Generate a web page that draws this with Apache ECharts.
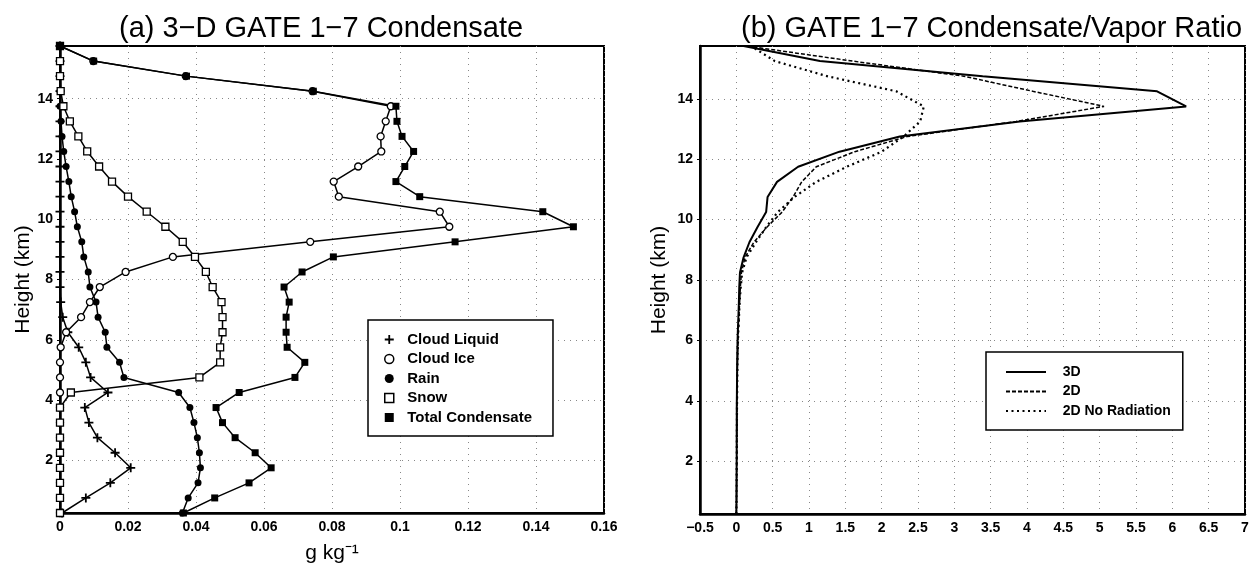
<!DOCTYPE html>
<html>
<head>
<meta charset="utf-8">
<script src="https://cdn.jsdelivr.net/npm/echarts@6/dist/echarts.min.js"></script>
<style>
html,body{margin:0;padding:0;background:#fff;}
#chart{width:1252px;height:569px;}
</style>
</head>
<body>
<div id="chart"></div>
<script>
// Heights (km) of the model levels, bottom to top
const heights = [0.25, 0.75, 1.25, 1.75, 2.25, 2.75, 3.25, 3.75, 4.25, 4.75, 5.25, 5.75, 6.25, 6.75, 7.25, 7.75,
                 8.25, 8.75, 9.25, 9.75, 10.25, 10.75, 11.25, 11.75, 12.25, 12.75, 13.25, 13.75, 14.25, 14.75, 15.25, 15.75];

// (a) condensate, g/kg
const cloudLiquid = [0.0006, 0.0076, 0.0148, 0.0208, 0.0162, 0.011, 0.0085, 0.0073, 0.0141, 0.009, 0.0076, 0.0055, 0.0023, 0.0008, 0.0002, 0,
                     0, 0, 0, 0, 0, 0, 0, 0, 0, 0, 0, 0, 0, 0, 0, 0];
const cloudIce = [0, 0, 0, 0, 0, 0, 0, 0, 0, 0, 0, 0.0002, 0.0018, 0.0062, 0.0088, 0.0117,
                  0.0193, 0.0332, 0.0736, 0.1145, 0.1117, 0.082, 0.0805, 0.0877, 0.0945, 0.0943, 0.0958, 0.0973, 0.0743, 0.037, 0.0098, 0];
const rain = [0.036, 0.0377, 0.0406, 0.0413, 0.041, 0.0404, 0.0394, 0.0382, 0.0349, 0.0188, 0.0175, 0.0138, 0.0133, 0.0112, 0.0106, 0.0088,
              0.0083, 0.007, 0.0064, 0.0051, 0.0043, 0.0033, 0.0026, 0.0018, 0.0011, 0.0006, 0.0003, 0, 0, 0, 0, 0];
const snow = [0, 0, 0, 0, 0, 0, 0, 0, 0.0032, 0.041, 0.0471, 0.0471, 0.0478, 0.0478, 0.0475, 0.0449,
              0.0429, 0.0397, 0.0361, 0.031, 0.0255, 0.02, 0.0153, 0.0115, 0.008, 0.0054, 0.0029, 0.001, 0.0002, 0, 0, 0];
const totalCondensate = [0.0363, 0.0455, 0.0556, 0.0621, 0.0574, 0.0515, 0.0478, 0.0459, 0.0527, 0.0691, 0.072, 0.0668, 0.0665, 0.0665, 0.0674, 0.0659,
                         0.0712, 0.0804, 0.1162, 0.151, 0.142, 0.1058, 0.0988, 0.1014, 0.104, 0.1006, 0.0991, 0.0988, 0.0745, 0.0372, 0.0099, 0];

// (b) condensate / vapor ratio
const ratio3D = [0, 0.002, 0.003, 0.004, 0.005, 0.005, 0.006, 0.006, 0.008, 0.01, 0.012, 0.015, 0.02, 0.028, 0.035, 0.04,
                 0.05, 0.1, 0.18, 0.29, 0.41, 0.43, 0.56, 0.85, 1.42, 2.25, 3.9, 6.19, 5.79, 3.39, 1.15, 0.1];
const ratio2D = [0, 0.003, 0.004, 0.005, 0.006, 0.007, 0.008, 0.009, 0.01, 0.012, 0.015, 0.02, 0.025, 0.035, 0.045, 0.055,
                 0.07, 0.12, 0.24, 0.42, 0.63, 0.78, 0.9, 1.1, 1.63, 2.35, 3.85, 5.06, 4.08, 3.13, 1.6, 0.14];
const ratio2DNoRad = [0, 0.003, 0.004, 0.005, 0.006, 0.007, 0.008, 0.009, 0.011, 0.013, 0.016, 0.02, 0.026, 0.036, 0.045, 0.06,
                      0.08, 0.14, 0.27, 0.41, 0.57, 0.8, 1.1, 1.52, 2.0, 2.3, 2.53, 2.58, 2.2, 1.25, 0.53, 0.2];

// Tick labels
const yTicks = [2, 4, 6, 8, 10, 12, 14];
const xTicksA = [0, 0.02, 0.04, 0.06, 0.08, 0.1, 0.12, 0.14, 0.16];
const xTicksB = [-0.5, 0, 0.5, 1, 1.5, 2, 2.5, 3, 3.5, 4, 4.5, 5, 5.5, 6, 6.5, 7];

const namesA = ['Cloud Liquid', 'Cloud Ice', 'Rain', 'Snow', 'Total Condensate'];
const namesB = ['3D', '2D', '2D No Radiation'];

function pairs(xs) { return xs.map((v, i) => [v, heights[i]]); }

const FONT = 'Liberation Sans';
const plusPath = 'path://M4,0H6V4H10V6H6V10H4V6H0V4H4Z';
const squarePath = 'path://M0,0H10V10H0Z';
const gridLine = { show: true, lineStyle: { color: '#888', width: 1, type: [1, 5] } };
const tickFont = { fontFamily: FONT, fontSize: 14, fontWeight: 'bold', color: '#000' };
const nameFont = { fontFamily: FONT, fontSize: 21, color: '#000' };
const titleFont = { fontFamily: FONT, fontSize: 29, fontWeight: 'normal', color: '#000' };

function yAxisDef(idx, gap) {
  return {
    type: 'value', gridIndex: idx, min: 0.25, max: 15.75,
    axisLine: { show: true, onZero: false, lineStyle: { color: '#000', width: 2.5 } },
    axisTick: { show: true, customValues: yTicks, length: 3, lineStyle: { color: '#000' } },
    axisLabel: Object.assign({ customValues: yTicks, margin: 7, formatter: v => String(v) }, tickFont),
    splitLine: gridLine,
    name: 'Height (km)', nameLocation: 'middle', nameGap: gap, nameTextStyle: nameFont
  };
}

const chart = echarts.init(document.getElementById('chart'), null, { renderer: 'canvas' });
chart.setOption({
  animation: false,
  backgroundColor: '#fff',
  title: [
    { text: '(a) 3\u2212D GATE 1\u22127 Condensate', left: 114, top: 9, textStyle: titleFont },
    { text: '(b) GATE 1\u22127 Condensate/Vapor Ratio', left: 736, top: 9, textStyle: titleFont }
  ],
  grid: [
    { left: 60, top: 46, width: 544, height: 468, show: true, borderColor: '#000', borderWidth: 2, backgroundColor: 'transparent' },
    { left: 700, top: 46, width: 545, height: 468, show: true, borderColor: '#000', borderWidth: 2, backgroundColor: 'transparent' }
  ],
  xAxis: [
    { type: 'value', gridIndex: 0, min: xTicksA[0], max: xTicksA[xTicksA.length - 1], interval: 0.02,
      axisLine: { show: true, onZero: false, lineStyle: { color: '#000', width: 2.5 } },
      axisTick: { show: false },
      axisLabel: Object.assign({ margin: 7, formatter: v => String(Math.round(v * 100) / 100) }, tickFont),
      splitLine: gridLine,
      name: 'g kg\u207B\u00B9', nameLocation: 'middle', nameGap: 30, nameTextStyle: nameFont },
    { type: 'value', gridIndex: 1, min: xTicksB[0], max: xTicksB[xTicksB.length - 1], interval: 0.5,
      axisLine: { show: true, onZero: false, lineStyle: { color: '#000', width: 2.5 } },
      axisTick: { show: false },
      axisLabel: Object.assign({ margin: 7, formatter: v => (v < 0 ? '\u2212' : '') + String(Math.abs(v)) }, tickFont),
      splitLine: gridLine }
  ],
  yAxis: [yAxisDef(0, 24), yAxisDef(1, 30)],
  legend: [
    { orient: 'vertical', left: 368, top: 320, selectedMode: false,
      itemWidth: 26, itemHeight: 9, itemGap: 4.5, padding: [12, 21, 11, 16],
      borderColor: '#000', borderWidth: 1.5, backgroundColor: '#fff',
      textStyle: { fontFamily: FONT, fontSize: 15, fontWeight: 'bold', color: '#000' },
      data: [
        { name: namesA[0], icon: plusPath, itemStyle: { color: '#000', borderWidth: 0 } },
        { name: namesA[1], icon: 'circle', itemStyle: { color: '#fff', borderColor: '#000', borderWidth: 1.5 } },
        { name: namesA[2], icon: 'circle', itemStyle: { color: '#000', borderWidth: 0 } },
        { name: namesA[3], icon: squarePath, itemStyle: { color: '#fff', borderColor: '#000', borderWidth: 1.5 } },
        { name: namesA[4], icon: squarePath, itemStyle: { color: '#000', borderWidth: 0 } }
      ] },
    { orient: 'vertical', left: 986, top: 352, selectedMode: false,
      itemWidth: 40, itemHeight: 10, itemGap: 5.5, padding: [13, 12, 12, 19],
      borderColor: '#000', borderWidth: 1.5, backgroundColor: '#fff',
      itemStyle: { opacity: 0 },
      textStyle: { fontFamily: FONT, fontSize: 14, fontWeight: 'bold', color: '#000' },
      formatter: n => '   ' + n,
      data: namesB }
  ],
  series: [
    { type: 'line', name: namesA[0], xAxisIndex: 0, yAxisIndex: 0, data: pairs(cloudLiquid), clip: false, showAllSymbol: true,
      symbol: plusPath, symbolSize: 9, itemStyle: { color: '#000' }, lineStyle: { color: '#000', width: 1.5 } },
    { type: 'line', name: namesA[1], xAxisIndex: 0, yAxisIndex: 0, data: pairs(cloudIce), clip: false, showAllSymbol: true,
      symbol: 'circle', symbolSize: 7, itemStyle: { color: '#fff', borderColor: '#000', borderWidth: 1.3 }, lineStyle: { color: '#000', width: 1.5 } },
    { type: 'line', name: namesA[2], xAxisIndex: 0, yAxisIndex: 0, data: pairs(rain), clip: false, showAllSymbol: true,
      symbol: 'circle', symbolSize: 7, itemStyle: { color: '#000' }, lineStyle: { color: '#000', width: 1.5 } },
    { type: 'line', name: namesA[3], xAxisIndex: 0, yAxisIndex: 0, data: pairs(snow), clip: false, showAllSymbol: true,
      symbol: 'rect', symbolSize: 7, itemStyle: { color: '#fff', borderColor: '#000', borderWidth: 1.3 }, lineStyle: { color: '#000', width: 1.5 } },
    { type: 'line', name: namesA[4], xAxisIndex: 0, yAxisIndex: 0, data: pairs(totalCondensate), clip: false, showAllSymbol: true,
      symbol: 'rect', symbolSize: 7, itemStyle: { color: '#000' }, lineStyle: { color: '#000', width: 1.5 } },
    { type: 'line', name: namesB[0], xAxisIndex: 1, yAxisIndex: 1, data: pairs(ratio3D), symbol: 'none',
      itemStyle: { color: '#000' }, lineStyle: { color: '#000', width: 2, type: 'solid' } },
    { type: 'line', name: namesB[1], xAxisIndex: 1, yAxisIndex: 1, data: pairs(ratio2D), symbol: 'none',
      itemStyle: { color: '#000' }, lineStyle: { color: '#000', width: 1.5, type: [4, 2] } },
    { type: 'line', name: namesB[2], xAxisIndex: 1, yAxisIndex: 1, data: pairs(ratio2DNoRad), symbol: 'none',
      itemStyle: { color: '#000' }, lineStyle: { color: '#000', width: 2.2, type: [2, 3.5] } }
  ]
});
</script>
</body>
</html>
